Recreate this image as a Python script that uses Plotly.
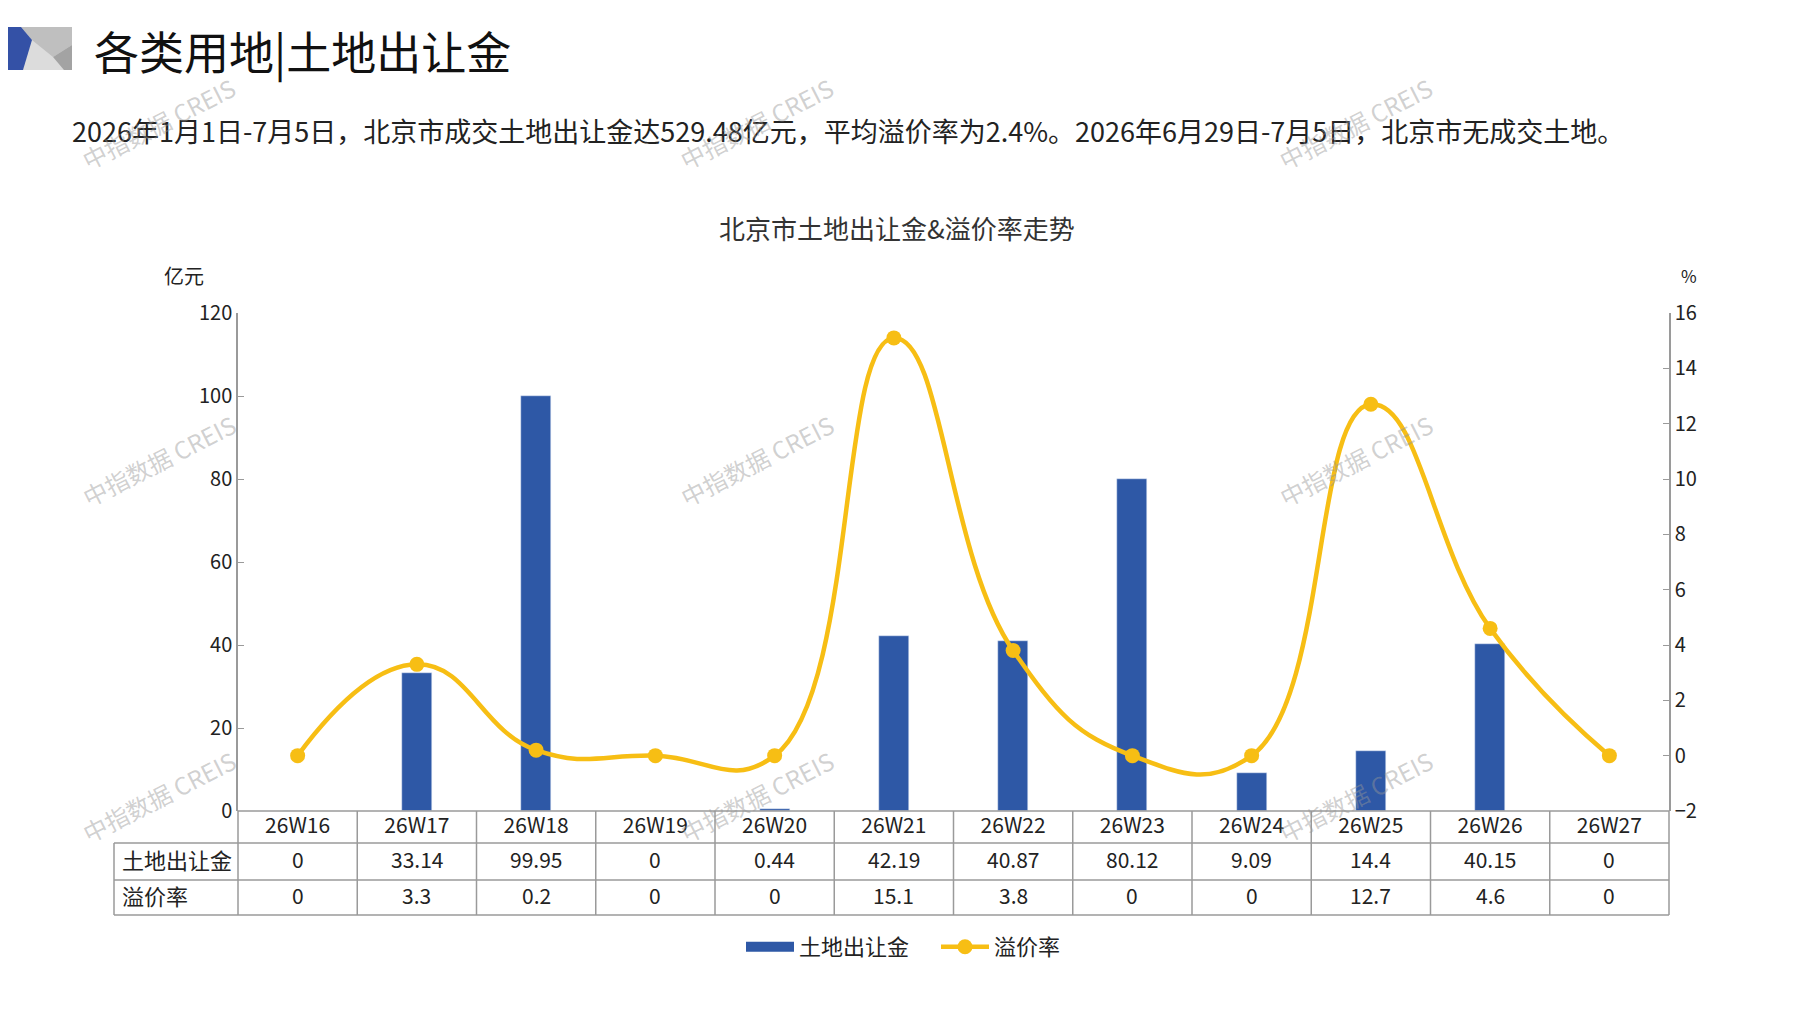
import plotly.graph_objects as go

# data
weeks = ["26W16", "26W17", "26W18", "26W19", "26W20", "26W21",
         "26W22", "26W23", "26W24", "26W25", "26W26", "26W27"]
land_fee = [0, 33.14, 99.95, 0, 0.44, 42.19, 40.87, 80.12, 9.09, 14.4, 40.15, 0]   # 亿元
premium_rate = [0, 3.3, 0.2, 0, 0, 15.1, 3.8, 0, 0, 12.7, 4.6, 0]                  # %
row_names = ["土地出让金", "溢价率"]

title_text = "各类用地|土地出让金"
subtitle_text = ("2026年1月1日-7月5日，北京市成交土地出让金达529.48亿元，平均溢价率为2.4%。"
                 "2026年6月29日-7月5日，北京市无成交土地。")
chart_title = "北京市土地出让金&溢价率走势"
watermark = "中指数据 CREIS"

BLUE = "#2E58A6"
GOLD = "#F7BE14"
GRID = "#9a9a9a"
FONT = "Noto Sans CJK SC"

# page layout in pixels (browser adds 8px body margin)
W, H = 1781, 994
PX_L, PX_R, PX_T, PX_B = 238, 1669, 313, 811


def px(x):
    return (x - PX_L) / (PX_R - PX_L)


def py(y):
    return (PX_B - y) / (PX_B - PX_T)


fig = go.Figure()

fig.add_trace(go.Bar(x=weeks, y=land_fee, name="土地出让金", marker_color=BLUE,
                     width=0.25, showlegend=False, yaxis="y"))
# legend stand-in so the bar key is drawn as a wide block like the original
fig.add_trace(go.Scatter(x=[None], y=[None], mode="lines", name="土地出让金",
                         line=dict(color=BLUE, width=13)))
fig.add_trace(go.Scatter(x=weeks, y=premium_rate, name="溢价率", mode="lines+markers",
                         line=dict(color=GOLD, width=4.5, shape="spline", smoothing=1.3),
                         marker=dict(size=15, color=GOLD), yaxis="y2", cliponaxis=False))

shapes = []
line_style = dict(color=GRID, width=1.5)
# table: horizontal rules
table_rows = [811, 843, 880, 915]
shapes.append(dict(type="line", xref="paper", yref="paper", x0=0, x1=1,
                   y0=py(table_rows[0]), y1=py(table_rows[0]), line=line_style))
for r in table_rows[1:]:
    shapes.append(dict(type="line", xref="paper", yref="paper", x0=px(114), x1=1,
                       y0=py(r), y1=py(r), line=line_style))
# table: vertical rules
for i in range(len(weeks) - 1):
    shapes.append(dict(type="line", xref="x", yref="paper", x0=i + 0.5, x1=i + 0.5,
                       y0=py(table_rows[0]), y1=py(table_rows[-1]), line=line_style))
for xv in [0, 1]:
    shapes.append(dict(type="line", xref="paper", yref="paper", x0=xv, x1=xv,
                       y0=py(table_rows[0]), y1=py(table_rows[-1]), line=line_style))
shapes.append(dict(type="line", xref="paper", yref="paper", x0=px(114), x1=px(114),
                   y0=py(table_rows[1]), y1=py(table_rows[-1]), line=line_style))

# header icon
icon = [
    ("#DCDCDC", [(0, 27), (72, 27), (72, 70), (0, 70)]),
    ("#BFBFBF", [(21, 27), (72, 27), (72, 45), (53, 57), (32, 40)]),
    ("#A3A3A3", [(72, 45), (72, 70), (64, 70), (53, 57)]),
    ("#3451A6", [(0, 27), (21, 27), (32, 40), (23, 70), (0, 70)]),
]
for color, pts in icon:
    path = "M " + " L ".join(f"{px(a):.5f},{py(b):.5f}" for a, b in pts) + " Z"
    shapes.append(dict(type="path", xref="paper", yref="paper", path=path,
                       fillcolor=color, line=dict(width=0)))

annotations = []
# table cells
row_y = [py((843 + 880) / 2 - 3), py((880 + 915) / 2 - 3)]
for name, vals, yy in zip(row_names, [land_fee, premium_rate], row_y):
    annotations.append(dict(text=name, xref="paper", yref="paper", x=px(120), y=yy,
                            xanchor="left", yanchor="middle", showarrow=False,
                            font=dict(size=22, color="#222")))
    for w, v in zip(weeks, vals):
        annotations.append(dict(text=f"{v:g}", xref="x", yref="paper", x=w, y=yy,
                                xanchor="center", yanchor="middle", showarrow=False,
                                font=dict(size=21, color="#222")))

annotations += [
    dict(text=title_text, xref="paper", yref="paper", x=px(92), y=py(50),
         xanchor="left", yanchor="middle", showarrow=False, font=dict(size=45, color="#111")),
    dict(text=subtitle_text, xref="paper", yref="paper", x=px(70), y=py(130),
         xanchor="left", yanchor="middle", showarrow=False, font=dict(size=27, color="#222")),
    dict(text=chart_title, xref="paper", yref="paper", x=px(897), y=py(227),
         xanchor="center", yanchor="middle", showarrow=False, font=dict(size=26, color="#333")),
    dict(text="亿元", xref="paper", yref="paper", x=px(184), y=py(275),
         xanchor="center", yanchor="middle", showarrow=False, font=dict(size=20, color="#222")),
    dict(text="%", xref="paper", yref="paper", x=px(1689), y=py(275),
         xanchor="center", yanchor="middle", showarrow=False, font=dict(size=17, color="#222")),
]

for wx in [158, 756, 1355]:
    for wy in [124, 460, 796]:
        annotations.append(dict(text=watermark, xref="paper", yref="paper", x=px(wx), y=py(wy),
                                xanchor="center", yanchor="middle", showarrow=False,
                                textangle=-27,
                                font=dict(size=24, color="rgba(150,150,150,0.45)")))

fig.update_layout(
    width=W, height=H,
    margin=dict(l=PX_L - 8, r=W + 8 - PX_R, t=PX_T - 8, b=H + 8 - PX_B),
    paper_bgcolor="white", plot_bgcolor="white",
    font=dict(family=FONT, size=20, color="#222"),
    bargap=0,
    xaxis=dict(type="category", range=[-0.5, len(weeks) - 0.5], showgrid=False,
               showline=False, ticks="", tickfont=dict(size=21), zeroline=False),
    yaxis=dict(range=[0, 120], dtick=20, showgrid=False, zeroline=False,
               showline=True, linecolor=GRID, linewidth=1.5,
               ticks="inside", ticklen=6, tickcolor=GRID, tickfont=dict(size=20)),
    yaxis2=dict(range=[-2, 16], dtick=2, overlaying="y", side="right", showgrid=False,
                zeroline=False, showline=True, linecolor=GRID, linewidth=1.5,
                ticks="inside", ticklen=6, tickcolor=GRID, tickfont=dict(size=20)),
    legend=dict(orientation="h", x=px(741), xanchor="left", y=py(947), yanchor="middle",
                font=dict(size=22), itemwidth=48, entrywidth=132, bgcolor="rgba(0,0,0,0)"),
    shapes=shapes,
    annotations=annotations,
)

fig.write_html("out.html")
